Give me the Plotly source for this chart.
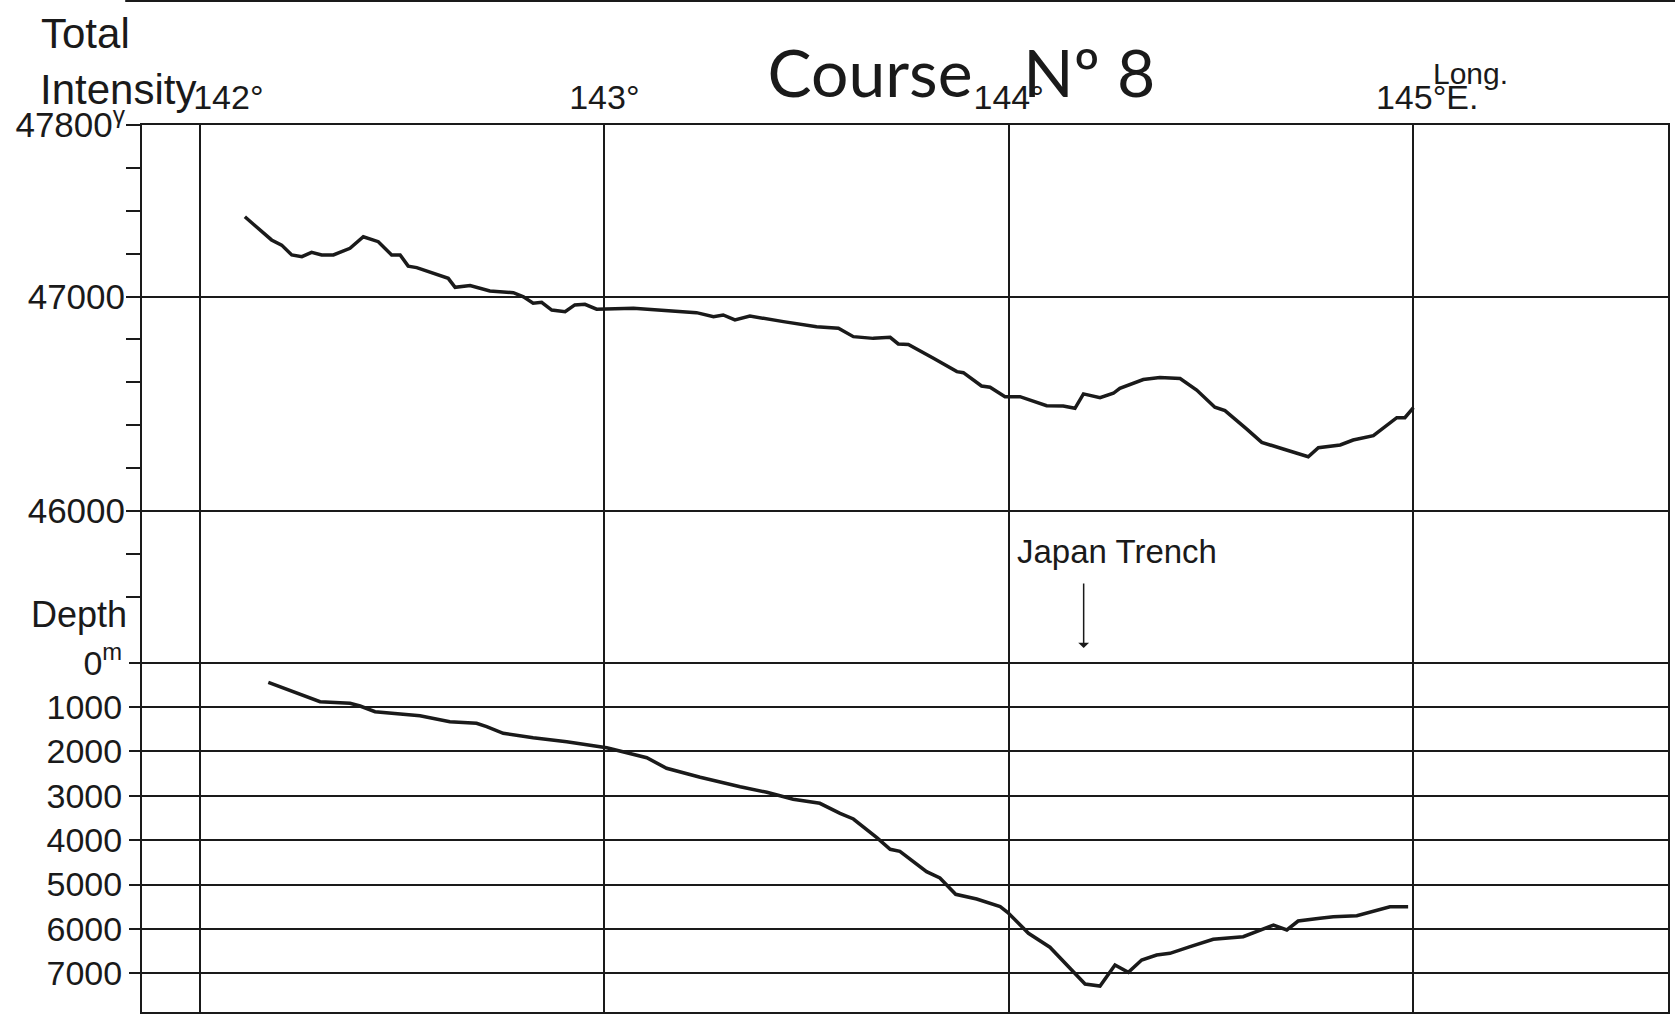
import plotly.graph_objects as go

# ---------------- data ----------------
# Total intensity (gamma) along the course, by longitude (deg E)
int_lon = [142.111, 142.177, 142.202, 142.227, 142.252, 142.276, 142.301, 142.330, 142.371, 142.404,
           142.441, 142.474, 142.495, 142.515, 142.536, 142.602, 142.614, 142.631, 142.668, 142.717,
           142.775, 142.800, 142.824, 142.845, 142.870, 142.903, 142.927, 142.952, 142.981, 143.072,
           143.146, 143.228, 143.270, 143.294, 143.323, 143.360, 143.443, 143.525, 143.579, 143.616,
           143.665, 143.707, 143.727, 143.752, 143.814, 143.872, 143.888, 143.933, 143.954, 143.991,
           144.028, 144.094, 144.135, 144.164, 144.185, 144.226, 144.259, 144.275, 144.333, 144.374,
           144.424, 144.465, 144.510, 144.535, 144.589, 144.626, 144.679, 144.741, 144.766, 144.820,
           144.852, 144.902, 144.960, 144.980, 145.001]
int_val = [47372, 47264, 47240, 47194, 47186, 47206, 47194, 47194, 47225, 47279,
           47256, 47194, 47194, 47142, 47135, 47093, 47085, 47043, 47051, 47026,
           47018, 46999, 46969, 46973, 46937, 46929, 46961, 46964, 46941, 46945,
           46934, 46925, 46906, 46914, 46891, 46909, 46883, 46859, 46852, 46813,
           46805, 46810, 46779, 46777, 46712, 46650, 46645, 46583, 46577, 46533,
           46533, 46491, 46490, 46479, 46546, 46528, 46549, 46572, 46613, 46622,
           46618, 46564, 46484, 46468, 46382, 46320, 46289, 46253, 46295, 46308,
           46331, 46351, 46435, 46435, 46482]

# Depth (m) along the course
dep_lon = [142.169, 142.231, 142.297, 142.371, 142.396, 142.433, 142.495, 142.544, 142.618, 142.684,
           142.709, 142.750, 142.824, 142.907, 143.006, 143.105, 143.154, 143.237, 143.336, 143.402,
           143.467, 143.533, 143.583, 143.616, 143.674, 143.707, 143.731, 143.797, 143.830, 143.869,
           143.921, 143.979, 143.998, 144.049, 144.102, 144.158, 144.172, 144.189, 144.226, 144.263,
           144.296, 144.329, 144.366, 144.399, 144.449, 144.506, 144.580, 144.655, 144.688, 144.716,
           144.770, 144.803, 144.861, 144.910, 144.943, 144.988]
dep_val = [442, 654, 879, 915, 976, 1104, 1156, 1195, 1330, 1366,
           1442, 1591, 1690, 1781, 1916, 2141, 2380, 2583, 2795, 2921,
           3079, 3169, 3394, 3523, 3944, 4206, 4251, 4710, 4852, 5220,
           5326, 5499, 5630, 6099, 6412, 6964, 7077, 7242, 7287, 6813,
           6978, 6701, 6588, 6550, 6401, 6234, 6175, 5912, 6024, 5822,
           5761, 5725, 5702, 5574, 5499, 5499]

lon_ticks = [142, 143, 144, 145]
lon_labels = ["\u00a0" * 6 + "142°", "143°", "144°", "\u00a0\u00a0\u00a0145°E."]
int_ticks = [46000, 47000, 47800]
int_labels = ["46000", "47000", "47800<sup>γ</sup>"]
int_minor = [45600, 45800, 46200, 46400, 46600, 46800, 47200, 47400, 47600]
dep_ticks = [0, 1000, 2000, 3000, 4000, 5000, 6000, 7000]
dep_labels = ["0<sup>m</sup>", "1000", "2000", "3000", "4000", "5000", "6000", "7000"]

HAND = "Liberation Sans, Arial, sans-serif"
INK = "#1a1a1a"

fig = go.Figure()
fig.add_trace(go.Scatter(x=int_lon, y=int_val, mode="lines", yaxis="y",
                         line=dict(color=INK, width=3.5), showlegend=False))
fig.add_trace(go.Scatter(x=dep_lon, y=dep_val, mode="lines", yaxis="y2",
                         line=dict(color=INK, width=3.5), showlegend=False))

fig.update_layout(
    width=1675, height=1015,
    margin=dict(l=142, r=7, t=125, b=3),
    paper_bgcolor="white", plot_bgcolor="white",
    showlegend=False,
    font=dict(family=HAND, color=INK),
    title=dict(text="Course\u00a0\u00a0\u00a0Nº 8", x=0.537, xref="paper", xanchor="center",
               y=0.927, yanchor="middle",
               font=dict(family="Lato, Noto Sans, sans-serif", size=66, color=INK)),
    xaxis=dict(range=[141.8566, 145.6307], side="top", tickmode="array",
               tickvals=lon_ticks, ticktext=lon_labels, ticks="",
               showgrid=True, gridcolor=INK, gridwidth=1.5, zeroline=False,
               showline=True, linecolor=INK, linewidth=2, mirror=True,
               tickfont=dict(size=34, family=HAND, color=INK), automargin=False),
    yaxis=dict(range=[43663.7, 47800], tickmode="array", tickvals=int_ticks, ticktext=int_labels,
               ticks="outside", ticklen=14, tickwidth=1.5, tickcolor=INK,
               showgrid=True, gridcolor=INK, gridwidth=1.5, zeroline=False,
               showline=True, linecolor=INK, linewidth=2, mirror=True,
               ticklabelstandoff=-6,
               minor=dict(tickmode="array", tickvals=int_minor, ticks="outside", ticklen=14,
                          tickwidth=1.5, tickcolor=INK, showgrid=False),
               tickfont=dict(size=35, family=HAND, color=INK), automargin=False),
    yaxis2=dict(range=[7872.5, -12118.6], overlaying="y", side="left", anchor="x",
                tickmode="array", tickvals=dep_ticks, ticktext=dep_labels,
                ticks="outside", ticklen=12, tickwidth=1.5, tickcolor=INK,
                showgrid=True, gridcolor=INK, gridwidth=1.5, zeroline=False,
                showline=False,
                tickfont=dict(size=34, family=HAND, color=INK), automargin=False),
)

ann_font = dict(family=HAND, color=INK)
common = dict(showarrow=False, xanchor="center", yanchor="middle")
fig.add_annotation(text="Total", xref="paper", yref="paper", x=-0.0367, y=1.1026,
                   font=dict(size=42, **ann_font), **common)
fig.add_annotation(text="Intensity", xref="paper", yref="paper", x=-0.0157, y=1.0395,
                   font=dict(size=42, **ann_font), **common)
fig.add_annotation(text="Depth", xref="paper", yref="paper", x=-0.0413, y=0.4487,
                   font=dict(size=36, **ann_font), **common)
fig.add_annotation(text="Long.", xref="paper", yref="paper", x=0.8709, y=1.0575,
                   font=dict(size=30, **ann_font), **common)
fig.add_annotation(text="Japan Trench", xref="x", yref="y2", x=144.268, y=-2500,
                   font=dict(size=33, **ann_font), **common)
fig.add_annotation(text="", xref="x", yref="y2", x=144.1855, y=-330,
                   showarrow=True, ax=0, ay=-66, arrowhead=1, arrowsize=1.2,
                   arrowwidth=1.5, arrowcolor=INK)

# sheet edge line at very top
fig.add_shape(type="line", xref="paper", yref="paper", x0=-0.011, x1=1.005,
              y0=1.1398, y1=1.1398, line=dict(color=INK, width=2))

fig.write_html("out.html")
